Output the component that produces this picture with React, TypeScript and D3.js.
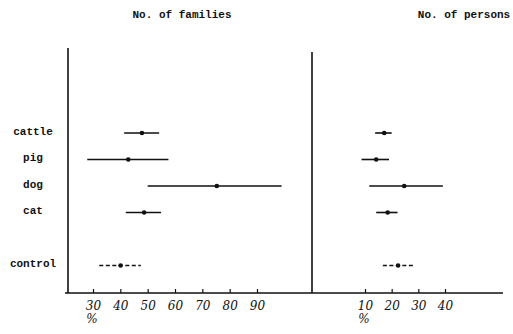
import React, { useEffect, useRef } from "react";
import * as d3 from "d3";

// categories (top to bottom), control sits after a gap
const categories = ["cattle", "pig", "dog", "cat", "control"];
const rowIndex = [0, 1, 2, 3, 5];

// No. of families (%): low, mean, high
const familiesLow = [41.4, 27.9, 50.0, 42.0, 32.3];
const familiesMean = [47.9, 42.9, 75.3, 48.7, 40.1];
const familiesHigh = [54.2, 57.6, 99.0, 54.9, 47.5];

// No. of persons (%): low, mean, high
const personsLow = [13.8, 8.7, 11.6, 14.2, 16.7];
const personsMean = [17.2, 14.2, 24.7, 18.5, 22.4];
const personsHigh = [20.0, 19.0, 39.2, 22.2, 28.0];

const familiesTicks = [30, 40, 50, 60, 70, 80, 90];
const personsTicks = [10, 20, 30, 40];

function App() {
    const svgRef = useRef(null);

    useEffect(() => {
        const width = 513;
        const height = 334;
        const baseY = 293;
        const leftAxisX = 68;
        const midAxisX = 312;

        const svg = d3.select(svgRef.current);
        svg.selectAll("*").remove();
        svg.attr("width", width).attr("height", height);

        const ink = "#111";
        const mono = "'Liberation Mono', 'DejaVu Sans Mono', monospace";
        const hand = "'DejaVu Serif', 'Liberation Serif', serif";

        // scales
        const xFam = d3.scaleLinear().domain([30, 90]).range([93, 257]);
        const xPer = d3.scaleLinear().domain([10, 40]).range([365, 445]);
        const y = d3.scaleLinear().domain([0, 5]).range([133, 265.5]);

        // titles
        svg.append("text")
            .attr("x", 182)
            .attr("y", 18)
            .attr("text-anchor", "middle")
            .attr("font-family", mono)
            .attr("font-weight", "bold")
            .attr("font-size", 11)
            .attr("fill", ink)
            .text("No. of families");
        svg.append("text")
            .attr("x", 464)
            .attr("y", 18)
            .attr("text-anchor", "middle")
            .attr("font-family", mono)
            .attr("font-weight", "bold")
            .attr("font-size", 11)
            .attr("fill", ink)
            .text("No. of persons");

        // frame lines
        svg.append("line")
            .attr("x1", leftAxisX).attr("x2", leftAxisX)
            .attr("y1", 48).attr("y2", baseY)
            .attr("stroke", ink).attr("stroke-width", 1.6);
        svg.append("line")
            .attr("x1", midAxisX).attr("x2", midAxisX)
            .attr("y1", 52).attr("y2", baseY)
            .attr("stroke", ink).attr("stroke-width", 1.6);
        svg.append("line")
            .attr("x1", 65).attr("x2", 503)
            .attr("y1", baseY).attr("y2", baseY)
            .attr("stroke", ink).attr("stroke-width", 1.4);

        // axes (ticks pointing up, handwritten-ish labels)
        const drawAxis = (scale, ticks) => {
            const axis = d3.axisBottom(scale)
                .tickValues(ticks)
                .tickSizeInner(-4)
                .tickSizeOuter(0)
                .tickPadding(8);
            const ax = svg.append("g")
                .attr("transform", `translate(0,${baseY})`)
                .call(axis);
            ax.select(".domain").remove();
            ax.selectAll(".tick line").attr("stroke", ink).attr("stroke-width", 1.2);
            ax.selectAll(".tick text")
                .attr("fill", ink)
                .attr("font-family", hand)
                .attr("font-style", "italic")
                .attr("font-size", 12);
            svg.append("text")
                .attr("x", scale(ticks[0]) - 1)
                .attr("y", 323)
                .attr("text-anchor", "middle")
                .attr("font-family", hand)
                .attr("font-style", "italic")
                .attr("font-size", 12)
                .attr("fill", ink)
                .text("%");
        };
        drawAxis(xFam, familiesTicks);
        drawAxis(xPer, personsTicks);

        // category labels
        svg.selectAll(".cat-label")
            .data(categories)
            .enter()
            .append("text")
            .attr("class", "cat-label")
            .attr("x", 33)
            .attr("y", (d, i) => y(rowIndex[i]) - 2)
            .attr("dy", "0.35em")
            .attr("text-anchor", "middle")
            .attr("font-family", mono)
            .attr("font-weight", "bold")
            .attr("font-size", 11)
            .attr("fill", ink)
            .text((d) => d);

        // range bars with mean points
        const drawRanges = (scale, lows, means, highs) => {
            const rows = categories.map((c, i) => ({
                name: c,
                yy: y(rowIndex[i]),
                lo: lows[i],
                mean: means[i],
                hi: highs[i],
            }));
            svg.append("g")
                .selectAll("line")
                .data(rows)
                .enter()
                .append("line")
                .attr("x1", (d) => scale(d.lo))
                .attr("x2", (d) => scale(d.hi))
                .attr("y1", (d) => d.yy)
                .attr("y2", (d) => d.yy)
                .attr("stroke", ink)
                .attr("stroke-width", 1.6)
                .attr("stroke-dasharray", (d) => (d.name === "control" ? "4,2.5" : null));
            svg.append("g")
                .selectAll("circle")
                .data(rows)
                .enter()
                .append("circle")
                .attr("cx", (d) => scale(d.mean))
                .attr("cy", (d) => d.yy)
                .attr("r", 2.3)
                .attr("fill", ink);
        };
        drawRanges(xFam, familiesLow, familiesMean, familiesHigh);
        drawRanges(xPer, personsLow, personsMean, personsHigh);
    }, []);

    return (
        <svg
            ref={svgRef}
            style={{ position: "absolute", left: 0, top: 0, background: "#fff" }}
        />
    );
}

export default App;
